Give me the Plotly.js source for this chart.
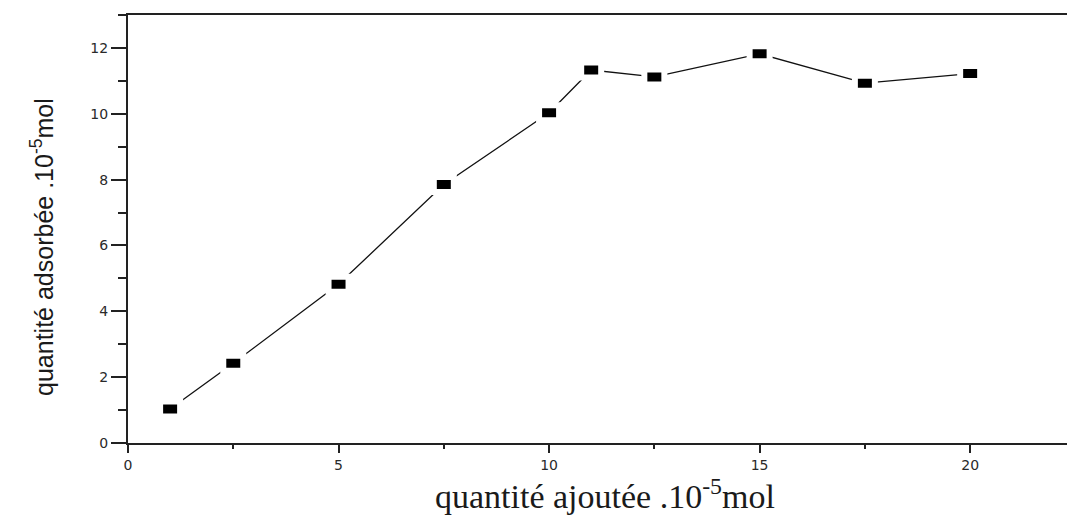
<!DOCTYPE html>
<html>
<head>
<meta charset="utf-8">
<script src="https://cdn.plot.ly/plotly-3.0.1.min.js"></script>
<style>
  html, body { margin: 0; padding: 0; background: #fff; }
  #chart { width: 1067px; height: 518px; }
</style>
</head>
<body>
<div id="chart"></div>
<script>
// Quantité ajoutée (10^-5 mol)
const added = [1, 2.5, 5, 7.5, 10, 11, 12.5, 15, 17.5, 20];
// Quantité adsorbée (10^-5 mol)
const adsorbed = [1.03, 2.42, 4.82, 7.85, 10.03, 11.33, 11.12, 11.82, 10.93, 11.22];

const xTicks = [0, 5, 10, 15, 20];
const yTicks = [0, 2, 4, 6, 8, 10, 12];

const xTitle = 'quantité ajoutée .10<sup>-5</sup>mol';
const yTitle = 'quantité adsorbée .10<sup>-5</sup>mol';

const trace = {
  x: added,
  y: adsorbed,
  mode: 'lines',
  line: { color: '#111', width: 1.3 },
  hoverinfo: 'x+y',
  showlegend: false
};

// Rectangular point markers with a white halo, so the connecting line
// stops just short of each point
const markerShapes = added.map((xv, i) => ({
  type: 'rect',
  xref: 'x', yref: 'y',
  xsizemode: 'pixel', ysizemode: 'pixel',
  xanchor: xv, yanchor: adsorbed[i],
  x0: -10, x1: 10, y0: -7.5, y1: 7.5,
  fillcolor: '#000',
  line: { color: '#fff', width: 6 },
  layer: 'above'
}));

const tickFont = { family: 'DejaVu Sans, Verdana, sans-serif', size: 14, color: '#2a2a2a' };

const layout = {
  width: 1067,
  height: 518,
  margin: { l: 128, r: 0, t: 15, b: 75 },
  paper_bgcolor: '#fff',
  plot_bgcolor: '#fff',
  xaxis: {
    range: [0, 22.3],
    tickvals: xTicks,
    ticktext: xTicks.map(String),
    ticks: 'outside',
    ticklen: 8,
    tickwidth: 2,
    tickcolor: '#222',
    minor: { dtick: 2.5, tick0: 0, ticks: 'outside', ticklen: 4, tickwidth: 2, tickcolor: '#222' },
    showline: true,
    linecolor: '#222',
    linewidth: 2,
    mirror: true,
    showgrid: false,
    zeroline: false,
    tickfont: tickFont
  },
  yaxis: {
    range: [0, 13],
    tickvals: yTicks,
    ticktext: yTicks.map(String),
    ticks: 'outside',
    ticklen: 15,
    tickwidth: 2,
    tickcolor: '#222',
    minor: { dtick: 1, tick0: 0, ticks: 'outside', ticklen: 8, tickwidth: 2, tickcolor: '#222' },
    showline: true,
    linecolor: '#222',
    linewidth: 2,
    mirror: false,
    showgrid: false,
    zeroline: false,
    tickfont: tickFont
  },
  annotations: [
    {
      text: xTitle,
      xref: 'paper', yref: 'paper',
      x: 0.5, y: 0,
      xshift: 7, yshift: -74,
      xanchor: 'center', yanchor: 'bottom',
      showarrow: false,
      font: { family: 'Liberation Serif, Times New Roman, serif', size: 34, color: '#1a1a1a' }
    },
    {
      text: yTitle,
      xref: 'paper', yref: 'paper',
      x: 0, y: 0.458,
      xshift: -86,
      xanchor: 'center', yanchor: 'middle',
      textangle: -90,
      showarrow: false,
      font: { family: 'Liberation Sans, Arial, sans-serif', size: 25, color: '#1a1a1a' }
    }
  ],
  shapes: markerShapes
};

Plotly.newPlot('chart', [trace], layout, { displayModeBar: false, staticPlot: true });
</script>
</body>
</html>
